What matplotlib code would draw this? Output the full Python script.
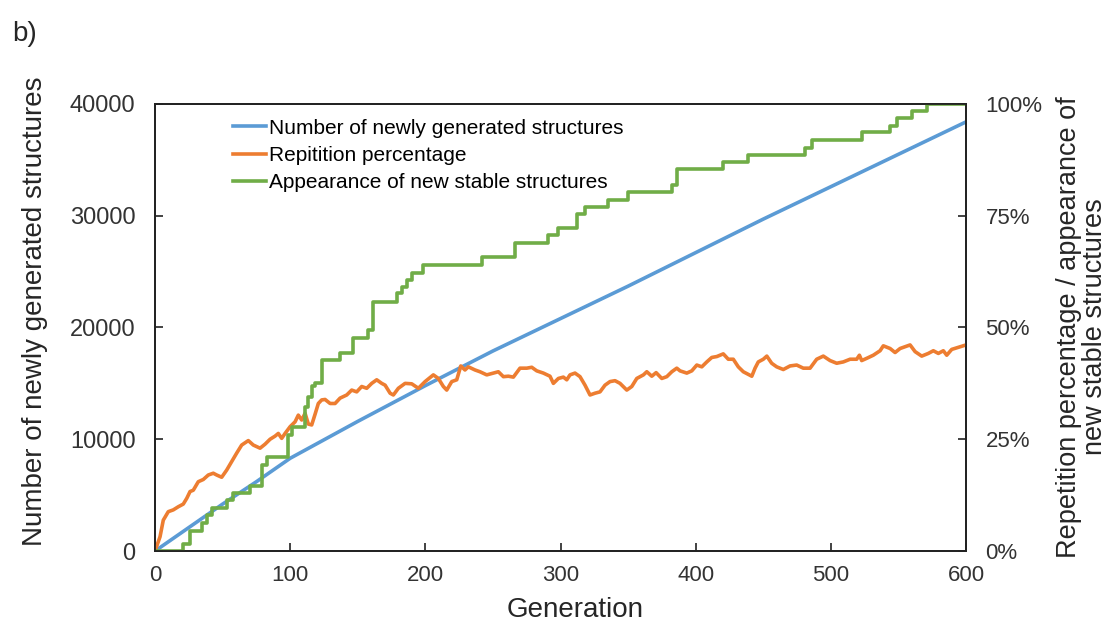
import numpy as np
import matplotlib.pyplot as plt
from matplotlib.ticker import PercentFormatter

plt.rcParams['font.family'] = ['Liberation Sans', 'DejaVu Sans']

# --- Number of newly generated structures (left axis) ---
blue_gen = [0, 25, 50, 75, 100, 150, 200, 250, 300, 350, 400, 450, 500, 550, 600]
blue_count = [0, 2100, 4200, 6200, 8300, 11600, 14800, 17900, 20800, 23700,
              26700, 29700, 32600, 35500, 38400]

# --- Repetition percentage (right axis, %) ---
rep_gen = [0, 3.7, 6.1, 9.8, 13.5, 17.2, 20.9, 23.5, 25.9, 28.3, 32.0, 35.7, 39.4,
           43.1, 45.6, 49.3, 53.0, 56.7, 60.4, 64.1, 69.0, 72.7, 77.7, 81.4, 85.1,
           88.8, 91.2, 93.7, 96.2, 99.9, 103.6, 106.0, 108.5, 111.0, 113.4, 115.9,
           118.4, 120.8, 123.3, 125.8, 129.5, 133.2, 136.9, 141.8, 145.5, 149.2,
           152.9, 156.6, 160.3, 164.0, 167.7, 170.2, 173.9, 176.3, 180.0, 185.0,
           189.9, 194.8, 199.8, 205.9, 209.6, 213.3, 215.8, 219.5, 223.2, 226.2,
           229.3, 231.8, 236.7, 240.4, 245.4, 250.3, 254.0, 257.7, 261.4, 265.1,
           270.0, 275.0, 278.7, 282.4, 287.3, 292.2, 294.7, 298.4, 302.1, 304.6,
           307.0, 310.7, 314.4, 318.1, 321.8, 325.5, 329.2, 332.9, 336.6, 340.3,
           344.0, 349.0, 352.7, 356.4, 361.3, 363.8, 367.5, 370.7, 374.9, 378.6,
           382.3, 386.0, 388.4, 393.4, 397.1, 400.8, 404.5, 408.2, 411.9, 415.6,
           420.4, 424.1, 427.8, 431.5, 435.2, 441.5, 443.9, 446.3, 450.0, 452.6,
           456.2, 459.9, 464.8, 469.8, 474.7, 479.6, 484.6, 489.5, 494.4, 499.4,
           504.3, 509.2, 514.2, 519.1, 521.1, 522.8, 526.5, 531.4, 536.4, 538.8,
           543.8, 547.5, 551.2, 558.6, 562.3, 567.2, 572.1, 575.8, 579.5, 583.2,
           585.7, 589.4, 595.6, 600]
rep_pct = [0, 3.2, 6.9, 8.8, 9.2, 9.9, 10.5, 11.8, 13.3, 13.6, 15.5, 16.0, 17.0,
           17.4, 17.0, 16.5, 18.1, 20.0, 21.9, 23.7, 24.7, 23.7, 23.0, 23.9, 25.0,
           25.7, 26.3, 25.2, 26.3, 27.8, 28.9, 30.4, 29.3, 30.8, 28.4, 28.2,
           30.6, 33.0, 33.8, 33.9, 33.0, 33.0, 34.2, 34.9, 36.0, 35.6,
           36.8, 36.4, 37.5, 38.3, 37.5, 37.1, 35.3, 34.9, 36.4, 37.5,
           37.4, 36.4, 37.9, 39.4, 38.6, 36.8, 36.0, 37.9, 38.3, 41.4,
           40.5, 41.2, 40.5, 40.1, 39.4, 39.8, 40.1, 39.0, 39.1, 38.9,
           40.9, 40.9, 41.1, 40.3, 39.8, 39.1, 37.5, 38.6, 38.9, 38.3,
           39.4, 39.8, 39.0, 37.1, 34.9, 35.3, 35.6, 37.1, 37.9, 38.1,
           37.5, 36.0, 36.8, 38.6, 39.4, 40.1, 39.1, 39.9, 38.6, 39.0,
           40.1, 40.9, 40.3, 39.8, 40.3, 41.6, 41.2, 42.3, 43.3, 43.5,
           44.1, 42.9, 42.9, 41.2, 40.1, 39.1, 40.9, 42.3, 42.9, 43.6,
           42.0, 41.2, 40.6, 41.4, 41.6, 40.9, 40.9, 42.9, 43.6, 42.6,
           42.0, 42.3, 42.9, 42.9, 43.8, 42.6, 43.1, 43.8, 44.8, 45.9,
           45.3, 44.4, 45.3, 46.1, 44.6, 43.6, 44.2, 44.8, 44.2, 44.8,
           43.8, 45.1, 45.7, 46.1]

# --- Appearance of new stable structures (right axis, %, stepwise) ---
stable_gen = [0, 20.9, 25.9, 34.5, 38.2, 42.0, 53.0, 57.9, 70.3, 78.9, 83.0, 98.0,
              101.5, 111.0, 113.4, 115.9, 118.4, 123.3, 136.9, 146.7, 157.8, 161.5,
              178.8, 182.5, 186.2, 189.9, 198.5, 241.7, 266.3, 291.0, 298.4, 312.0,
              318.1, 335.4, 350.2, 382.2, 385.9, 420.4, 439.0, 480.9, 485.8, 522.8,
              543.8, 548.7, 559.8, 570.9, 600]
stable_pct = [0, 1.6, 4.4, 6.2, 8.0, 9.7, 11.3, 12.9, 14.5, 19.2, 21.0, 26.0,
              27.8, 32.3, 34.5, 36.8, 37.5, 42.7, 44.2, 47.6, 49.4, 55.8,
              57.7, 59.1, 60.6, 62.1, 64.0, 65.7, 68.8, 70.7, 72.2, 75.5,
              77.0, 78.5, 80.2, 81.9, 85.5, 87.1, 88.6, 90.2, 91.9, 93.7,
              95.1, 96.8, 98.4, 100, 100]

c_blue = "#5B9BD5"
c_orange = "#ED7D31"
c_green = "#70AD47"
c_text = "#262626"

fig = plt.figure(figsize=(11.09, 6.26), dpi=100)
ax = fig.add_axes([0.1398, 0.1198, 0.7313, 0.7141])
ax2 = ax.twinx()

l1, = ax.plot(blue_gen, blue_count, color=c_blue, lw=2.6,
              label="Number of newly generated structures")
l2, = ax2.plot(rep_gen, np.array(rep_pct) / 100, color=c_orange, lw=2.6,
               label="Repitition percentage")
l3, = ax2.step(stable_gen, np.array(stable_pct) / 100, where="post", color=c_green,
               lw=2.6, label="Appearance of new stable structures")

ax.set_xlim(0, 600)
ax.set_ylim(0, 40000)
ax2.set_ylim(0, 1)
ax.set_xticks(range(0, 601, 100))
ax.set_yticks(range(0, 40001, 10000))
ax2.set_yticks([0, 0.25, 0.5, 0.75, 1.0])
ax2.yaxis.set_major_formatter(PercentFormatter(1.0, decimals=0))

for a in (ax, ax2):
    for s in a.spines.values():
        s.set_linewidth(1.3)
        s.set_color("#222222")
ax.tick_params(direction="in", length=6, width=1.2, pad=10,
               colors="#222222", labelcolor="#333333")
ax.tick_params(axis="x", labelsize=16)
ax.tick_params(axis="y", labelsize=17, pad=14)
ax2.tick_params(direction="in", length=6, width=1.2, labelsize=16, pad=14,
                colors="#222222", labelcolor="#333333")

# axis titles placed in figure coordinates
fig.text(575 / 1109, 1 - 610 / 626, "Generation", fontsize=20, color=c_text,
         ha="center", va="center")
fig.text(35 / 1109, 1 - 311 / 626, "Number of newly generated structures",
         fontsize=20, color=c_text, rotation=90, ha="center", va="center")
fig.text(1082 / 1109, 1 - 327 / 626,
         "Repetition percentage / appearance of\nnew stable structures",
         fontsize=19.5, color=c_text, rotation=90, ha="center", va="center",
         multialignment="center", linespacing=1.0)

ax2.legend(handles=[l1, l2, l3], loc="upper left", bbox_to_anchor=(0.078, 1.0),
           frameon=False, fontsize=15, handlelength=1.6, handletextpad=0.15,
           labelspacing=0.4, borderaxespad=0.3)

fig.text(0.011, 0.935, "b)", fontsize=20, color=c_text)

fig.savefig("out.png", dpi=100)
